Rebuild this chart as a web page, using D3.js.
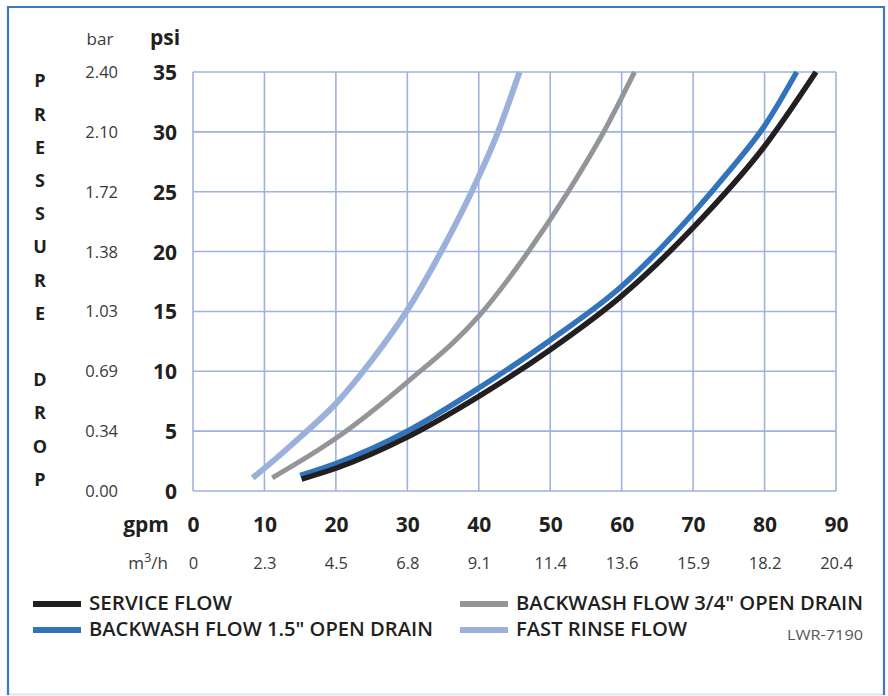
<!DOCTYPE html>
<html><head><meta charset="utf-8">
<script src="https://cdn.jsdelivr.net/npm/d3@7"></script>
<style>
html,body{margin:0;padding:0;background:#fff;}
svg text{font-family:"Open Sans","Noto Sans",sans-serif;}
</style></head>
<body>
<svg id="c" width="888" height="696"></svg>
<script>
// ---- data ----
const gpmTicks = [0,10,20,30,40,50,60,70,80,90];
const m3hLabels = ["0","2.3","4.5","6.8","9.1","11.4","13.6","15.9","18.2","20.4"];
const psiTicks = [0,5,10,15,20,25,30,35];
const barLabels = ["0.00","0.34","0.69","1.03","1.38","1.72","2.10","2.40"];

const fastRinseGpm = [8.35,10,15,20,25,30,35,39.0,42.7,45.7];
const fastRinsePsi = [1.1,1.9,4.5,7.3,10.9,15.1,20.3,25,30,35];
const bw34Gpm = [11.1,20,30,40,46.7,52.3,57.4,61.8];
const bw34Psi = [1.1,4.4,9.1,14.6,19.8,24.8,29.9,35];
const bw15Gpm = [15.0,20,30,40,50,60,70,75,80,84.5];
const bw15Psi = [1.3,2.3,5.0,8.6,12.6,17.1,23.2,26.7,30.5,35];
const serviceGpm = [15.2,20,30,40,50,60,70,80,87.2];
const servicePsi = [1.0,1.9,4.5,7.9,11.8,16.3,22.0,28.8,35];

const seriesNames = ["SERVICE FLOW","BACKWASH FLOW 1.5\" OPEN DRAIN","BACKWASH FLOW 3/4\" OPEN DRAIN","FAST RINSE FLOW"];
const seriesColors = ["#231f20","#3174bb","#939598","#9bb0da"];

const series = [
  {name:seriesNames[3], color:seriesColors[3], w:6, gpm:fastRinseGpm, psi:fastRinsePsi},
  {name:seriesNames[2], color:seriesColors[2], w:5, gpm:bw34Gpm, psi:bw34Psi},
  {name:seriesNames[1], color:seriesColors[1], w:5.5, gpm:bw15Gpm, psi:bw15Psi},
  {name:seriesNames[0], color:seriesColors[0], w:5.5, gpm:serviceGpm, psi:servicePsi}
];

const svg = d3.select("#c");
// frame
svg.append("rect").attr("x",0).attr("y",0).attr("width",888).attr("height",696).attr("fill","#fff");
svg.append("line").attr("x1",7).attr("x2",884).attr("y1",694.5).attr("y2",694.5).attr("stroke","#dbe5f3").attr("stroke-width",2);
svg.append("path").attr("d","M8,695 V7 H884 V695").attr("fill","none").attr("stroke","#3c79c1").attr("stroke-width",2.2);

const x = d3.scaleLinear().domain([0,90]).range([193,836]);
const y = d3.scaleLinear().domain([0,35]).range([491,72]);
const gridColor = "#9fb2dd";

// grid
const g = svg.append("g");
g.selectAll("line.v").data(gpmTicks).join("line")
  .attr("x1",d=>x(d)).attr("x2",d=>x(d)).attr("y1",y(0)).attr("y2",y(35))
  .attr("stroke",gridColor).attr("stroke-width",1.6);
g.selectAll("line.h").data(psiTicks).join("line")
  .attr("y1",d=>y(d)).attr("y2",d=>y(d)).attr("x1",x(0)).attr("x2",x(90))
  .attr("stroke",gridColor).attr("stroke-width",1.6);

// curves
const line = d3.line().x(d=>x(d[0])).y(d=>y(d[1])).curve(d3.curveMonotoneX);
series.forEach(s=>{
  const pts = s.gpm.map((v,i)=>[v,s.psi[i]]);
  svg.append("path").attr("d",line(pts)).attr("fill","none")
    .attr("stroke",s.color).attr("stroke-width",s.w).attr("stroke-linecap","butt");
});

// psi axis
const psiAx = svg.append("g").attr("transform","translate(177,0)")
  .call(d3.axisLeft(y).tickValues(psiTicks).tickSize(0).tickPadding(0));
psiAx.select(".domain").remove();
psiAx.selectAll("text").attr("x",0).attr("dy","0.36em")
  .style("font-size","21px").style("font-weight","700").attr("fill","#231f20");

// bar axis
const barAx = svg.append("g").attr("transform","translate(118,0)")
  .call(d3.axisLeft(y).tickValues(psiTicks).tickFormat((d,i)=>barLabels[i]).tickSize(0).tickPadding(0));
barAx.select(".domain").remove();
barAx.selectAll("text").attr("x",0).attr("dy","0.33em")
  .style("font-size","16.5px").style("font-weight","400").attr("fill","#3a3a3a");

svg.append("text").attr("x",165).attr("y",45).attr("text-anchor","middle")
  .style("font-size","21px").style("font-weight","700").attr("fill","#231f20").text("psi");
svg.append("text").attr("x",100).attr("y",45).attr("text-anchor","middle")
  .style("font-size","17px").attr("fill","#3a3a3a").text("bar");

// vertical axis title letters
const title = "PRESSURE DROP".split("");
let ty = 81;
title.forEach((ch)=>{
  if(ch!==" "){
    svg.append("text").attr("x",40).attr("y",ty).attr("dy","0.36em").attr("text-anchor","middle")
      .style("font-size","18px").style("font-weight","700").attr("fill","#231f20").text(ch);
  }
  ty += 33.2;
});

// gpm axis
const gpmAx = svg.append("g").attr("transform","translate(0,524)")
  .call(d3.axisBottom(x).tickValues(gpmTicks).tickSize(0).tickPadding(0));
gpmAx.select(".domain").remove();
gpmAx.selectAll("text").attr("y",0).attr("dy","0.36em")
  .style("font-size","21px").style("font-weight","700").attr("fill","#231f20");
svg.append("text").attr("x",169).attr("y",524).attr("dy","0.36em").attr("text-anchor","end")
  .style("font-size","21px").style("font-weight","700").attr("fill","#231f20").text("gpm");

// m3/h axis
const mAx = svg.append("g").attr("transform","translate(0,563)")
  .call(d3.axisBottom(x).tickValues(gpmTicks).tickFormat((d,i)=>m3hLabels[i]).tickSize(0).tickPadding(0));
mAx.select(".domain").remove();
mAx.selectAll("text").attr("y",0).attr("dy","0.35em")
  .style("font-size","16.5px").attr("fill","#3a3a3a");
const mt = svg.append("text").attr("x",168).attr("y",569).attr("text-anchor","end")
  .style("font-size","17px").attr("fill","#3a3a3a");
mt.append("tspan").text("m");
mt.append("tspan").attr("dy",-7).style("font-size","13px").text("3");
mt.append("tspan").attr("dy",7).text("/h");

// legend
const legend = [
  {i:0, sx:33, ty:603, tx:89, tw:143},
  {i:1, sx:33, ty:629, tx:89, tw:344},
  {i:2, sx:460, ty:603, tx:516, tw:347},
  {i:3, sx:460, ty:629, tx:516, tw:171}
];
legend.forEach(l=>{
  svg.append("line").attr("x1",l.sx).attr("x2",l.sx+48).attr("y1",l.ty+1).attr("y2",l.ty+1)
    .attr("stroke",seriesColors[l.i]).attr("stroke-width",6);
  svg.append("text").attr("x",l.tx).attr("y",l.ty).attr("dy","0.36em")
    .attr("textLength",l.tw).attr("lengthAdjust","spacingAndGlyphs")
    .style("font-size","19px").style("font-weight","600").attr("fill","#231f20").text(seriesNames[l.i]);
});
svg.append("text").attr("x",863).attr("y",635).attr("dy","0.36em").attr("text-anchor","end")
  .attr("textLength",76).attr("lengthAdjust","spacingAndGlyphs")
  .style("font-size","15px").attr("fill","#555").text("LWR-7190");
</script>
</body></html>
